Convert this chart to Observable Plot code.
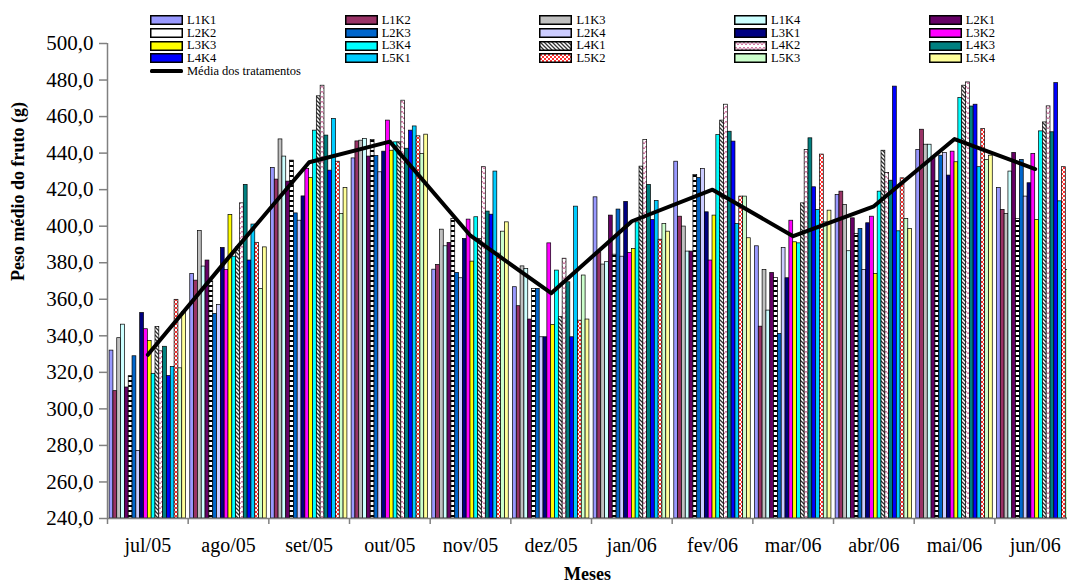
<!DOCTYPE html>
<html>
<head>
<meta charset="utf-8">
<script src="https://cdn.jsdelivr.net/npm/d3@7"></script>
<script src="https://cdn.jsdelivr.net/npm/@observablehq/plot@0.6"></script>
<style>
html, body { margin: 0; padding: 0; background: #fff; overflow: hidden; }
#wrap { position: relative; width: 1067px; height: 587px; font-family: "Liberation Serif", "Times New Roman", serif; }
#legend { position: absolute; left: 0; top: 0; width: 1067px; height: 80px; pointer-events: none; }
.item { position: absolute; display: flex; align-items: center; font-size: 12.5px; line-height: 1; color: #000; white-space: nowrap; }
.item svg { display: block; margin-right: 4px; }
</style>
</head>
<body>
<svg width="0" height="0" style="position:absolute">
  <defs>
    <pattern id="pL2K2" patternUnits="userSpaceOnUse" width="4" height="5">
      <rect width="4" height="5" fill="#fff"/>
      <rect width="4" height="2" fill="#000"/>
    </pattern>
    <pattern id="pL4K1" patternUnits="userSpaceOnUse" width="4" height="4">
      <rect width="4" height="4" fill="#fff"/>
      <path d="M0,0 L4,4 M-1,3 L1,5 M3,-1 L5,1" stroke="#333" stroke-width="1.3"/>
    </pattern>
    <pattern id="pL4K2" patternUnits="userSpaceOnUse" width="8" height="5">
      <rect width="8" height="5" fill="#fff"/>
      <path d="M0,4 L2,1 L4,4 L6,1 L8,4" stroke="#cc6699" stroke-width="1" fill="none"/>
    </pattern>
    <pattern id="pL5K2" patternUnits="userSpaceOnUse" width="4" height="4">
      <rect width="4" height="4" fill="#fff"/>
      <path d="M0,0 L4,4 M4,0 L0,4" stroke="#ff0000" stroke-width="0.8"/>
    </pattern>
  </defs>
</svg>
<div id="wrap">
  <div id="chart"></div>
  <div id="legend"></div>
</div>
<script>
// ---- data ----
const months = ["jul/05", "ago/05", "set/05", "out/05", "nov/05", "dez/05", "jan/06", "fev/06", "mar/06", "abr/06", "mai/06", "jun/06"];
const series = ["L1K1", "L1K2", "L1K3", "L1K4", "L2K1", "L2K2", "L2K3", "L2K4", "L3K1", "L3K2",
                "L3K3", "L3K4", "L4K1", "L4K2", "L4K3", "L4K4", "L5K1", "L5K2", "L5K3", "L5K4"];
const fills = ["#9999ff", "#993366", "#c0c0c0", "#ccffff", "#660066", "url(#pL2K2)", "#0066cc", "#ccccff", "#000080", "#ff00ff",
               "#ffff00", "#00ffff", "url(#pL4K1)", "url(#pL4K2)", "#008080", "#0000ff", "#00ccff", "url(#pL5K2)", "#ccffcc", "#ffff99"];
const legendFills = fills.map((f, i) => series[i] === "L2K2" ? "#ffffff" : f);

// values per month, in series order
const jul05 = [331.9, 309.7, 338.7, 346.1, 311.7, 317.9, 328.8, 277.0, 352.5, 343.6, 337.2, 319.2, 344.9, 331.5, 334.0, 318.0, 323.0, 359.7, 322.2, 353.0];
const ago05 = [373.9, 370.2, 397.4, 377.9, 381.2, 369.8, 352.0, 356.9, 388.1, 376.0, 406.2, 383.3, 388.5, 412.5, 422.6, 381.2, 400.9, 390.9, 365.7, 388.4];
const set05 = [431.9, 425.5, 447.5, 438.1, 424.4, 435.9, 407.0, 403.0, 416.3, 431.3, 426.4, 452.3, 471.1, 476.9, 449.6, 430.4, 458.7, 435.3, 406.7, 420.9];
const out05 = [437.1, 446.4, 446.8, 447.7, 438.1, 447.2, 438.4, 429.5, 440.8, 457.8, 441.3, 445.9, 445.9, 468.7, 442.4, 452.3, 454.6, 449.2, 439.5, 450.1];
const nov05 = [376.2, 378.8, 398.1, 389.0, 390.8, 404.0, 374.4, 371.5, 393.0, 403.6, 380.6, 404.9, 393.0, 432.3, 408.0, 406.3, 429.9, 385.0, 397.0, 402.1];
const dez05 = [366.6, 356.2, 378.0, 376.6, 348.9, 365.7, 365.7, 339.2, 339.2, 390.6, 346.0, 375.7, 350.2, 382.2, 369.3, 339.2, 410.7, 348.3, 373.0, 348.9];
const jan06 = [415.8, 385.7, 379.0, 380.3, 405.8, 384.4, 409.1, 383.3, 413.3, 385.4, 387.6, 402.1, 432.6, 447.2, 422.6, 403.4, 413.8, 392.6, 401.2, 397.0];
const fev06 = [435.3, 405.2, 399.8, 386.1, 386.1, 428.0, 426.4, 431.3, 407.6, 381.2, 405.8, 449.9, 457.8, 466.5, 451.7, 446.3, 401.2, 416.2, 416.2, 393.4];
const mar06 = [389.0, 345.0, 376.0, 353.8, 374.4, 371.7, 341.0, 388.1, 371.5, 403.0, 391.2, 390.6, 412.5, 441.7, 448.1, 421.3, 408.9, 439.2, 402.1, 408.5];
const abr06 = [417.1, 418.9, 411.6, 386.3, 404.3, 395.8, 398.5, 376.0, 401.6, 405.2, 373.9, 418.9, 441.3, 429.1, 424.9, 476.4, 397.2, 426.2, 404.0, 398.5];
const mai06 = [441.7, 452.8, 444.6, 444.6, 438.0, 424.6, 438.6, 440.0, 427.7, 440.8, 435.0, 470.2, 476.9, 478.7, 465.5, 466.5, 432.3, 453.2, 436.3, 438.6];
const jun06 = [420.9, 408.9, 406.7, 429.9, 440.1, 404.0, 436.3, 416.2, 423.5, 439.6, 403.4, 451.9, 456.8, 465.6, 451.4, 478.3, 413.6, 432.3, 376.0, 470.0];
const meanValues = [329.6, 382.8, 435.0, 446.3, 394.8, 363.3, 402.7, 420.0, 394.5, 410.9, 447.7, 431.3];
const meanLabel = "Média dos tratamentos";
const yTicks = [240, 260, 280, 300, 320, 340, 360, 380, 400, 420, 440, 460, 480, 500];
const yLabel = "Peso médio do fruto (g)";
const xLabel = "Meses";

// ---- build tables ----
const monthValues = [jul05, ago05, set05, out05, nov05, dez05, jan06, fev06, mar06, abr06, mai06, jun06];
const data = [];
monthValues.forEach((vals, m) => vals.forEach((v, s) => data.push({m, s, series: series[s], value: v})));
const meanData = meanValues.map((v, m) => ({m, value: v}));

const pad = 0.026, bw = 0.0474;   // bar layout inside each month band
const baseY = yTicks[0];
const visibleBands = 960 / 80.67;  // the picture cuts the last month band

const chart = Plot.plot({
  width: 1067, height: 587,
  marginTop: 43, marginBottom: 69, marginLeft: 107, marginRight: 0,
  style: {fontFamily: '"Liberation Serif", "Times New Roman", serif', background: "white", color: "black", overflow: "visible"},
  x: {domain: [0, visibleBands], axis: null},
  y: {domain: [yTicks[0], yTicks[yTicks.length - 1]], axis: null},
  color: {domain: series, range: fills},
  marks: [
    Plot.rect(data, {
      x1: d => d.m + pad + d.s * bw,
      x2: d => d.m + pad + (d.s + 1) * bw,
      y1: () => baseY, y2: "value",
      fill: "series", stroke: "black", strokeWidth: 0.7, clip: true
    }),
    Plot.ruleX([0], {stroke: "#808080", strokeWidth: 1.5}),
    Plot.ruleY([baseY], {stroke: "#808080", strokeWidth: 1.5}),
    Plot.axisY({ticks: yTicks, tickSize: 8, tickPadding: 6, stroke: "#808080", strokeWidth: 1.5,
      tickFormat: d => d.toFixed(1).replace(".", ","), fontSize: 21, label: null}),
    Plot.axisX({ticks: d3.range(0, months.length), tickSize: 6, stroke: "#808080", strokeWidth: 1.5,
      tickFormat: () => "", label: null}),
    Plot.axisX({ticks: months.map((_, i) => i + 0.5), tickSize: 0, tickPadding: 19.5,
      tickFormat: d => months[Math.floor(d)], fontSize: 20, label: null}),
    Plot.line(meanData, {x: d => d.m + 0.5, y: "value", stroke: "black", strokeWidth: 4}),
    Plot.text([yLabel], {text: d => d, frameAnchor: "left", rotate: -90, dx: -89, fontWeight: "bold", fontSize: 18}),
    Plot.text([xLabel], {text: d => d, frameAnchor: "bottom", dy: 61, fontWeight: "bold", fontSize: 18})
  ]
});
document.getElementById("chart").appendChild(chart);

// ---- legend ----
const legend = document.getElementById("legend");
const colX = 150, colStep = 194.7, rowY = 20, rowStep = 12.75;
function addItem(row, col, swatchSvg, label) {
  const div = document.createElement("div");
  div.className = "item";
  div.style.left = (colX + col * colStep) + "px";
  div.style.top = (rowY + row * rowStep - 6) + "px";
  div.style.height = "12px";
  div.innerHTML = swatchSvg + "<span>" + label + "</span>";
  legend.appendChild(div);
}
series.forEach((name, i) => {
  const sw = `<svg width="33" height="10"><rect x="0.75" y="0.75" width="31.5" height="8.5" fill="${legendFills[i]}" stroke="#000" stroke-width="1.5"/></svg>`;
  addItem(Math.floor(i / 5), i % 5, sw, name);
});
addItem(4, 0, `<svg width="33" height="10"><rect x="0" y="3" width="33" height="4" rx="1.5" fill="#000"/></svg>`, meanLabel);
</script>
</body>
</html>
